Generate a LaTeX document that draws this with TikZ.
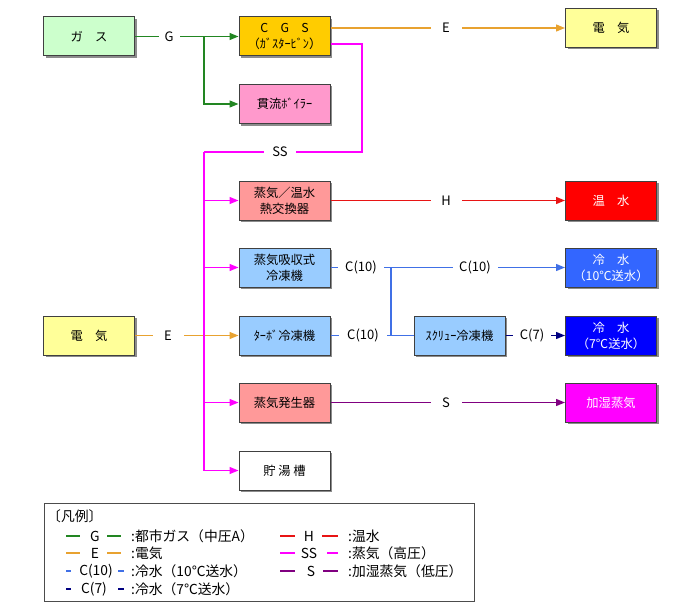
\documentclass[tikz,border=0pt]{standalone}
\usepackage{fontspec}
\setmainfont{Noto Sans CJK JP}
\usetikzlibrary{arrows.meta,shadows}
\definecolor{cG}{RGB}{34,134,34}
\definecolor{cE}{RGB}{232,162,48}
\definecolor{cSS}{RGB}{255,0,255}
\definecolor{cH}{RGB}{232,20,20}
\definecolor{cC}{RGB}{64,112,230}
\definecolor{cCs}{RGB}{0,0,128}
\definecolor{cS}{RGB}{128,0,128}
\definecolor{fGas}{RGB}{204,255,204}
\definecolor{fCGS}{RGB}{255,204,0}
\definecolor{fElec}{RGB}{255,255,153}
\definecolor{fBoil}{RGB}{255,153,204}
\definecolor{fHX}{RGB}{255,153,153}
\definecolor{fHW}{RGB}{255,0,0}
\definecolor{fChil}{RGB}{153,204,255}
\definecolor{fCWa}{RGB}{51,102,255}
\definecolor{fCWb}{RGB}{0,0,255}
\definecolor{fHum}{RGB}{255,0,255}
\begin{document}
\begin{tikzpicture}[x=1pt,y=-1pt,
  box/.style={draw=black!75, line width=1pt, minimum width=91pt, minimum height=39pt,
    inner sep=1pt, align=center, font=\fontsize{12.3}{16}\selectfont,
    drop shadow={shadow xshift=2pt, shadow yshift=-2pt, fill=black!45, opacity=1}},
  lbl/.style={fill=white, inner sep=1pt, font=\fontsize{13}{15}\selectfont},
  flow/.style={line width=1.3pt},
  arr/.style={-{Triangle[length=9pt,width=7pt]}},
  lg/.style={font=\fontsize{13.8}{15}\selectfont, inner sep=0pt},
  lgl/.style={line width=1.2pt}]
\useasboundingbox (0,0) rectangle (699,610);
% boxes
\node[box, fill=fGas] (gas) at (89,36.5) {ガ　ス};
\node[box, fill=fCGS] (cgs) at (284.5,36.5) {C　G　S\\（ｶﾞｽﾀｰﾋﾞﾝ）};
\node[box, fill=fElec] (elecR) at (611,28) {電　気};
\node[box, fill=fBoil] (boiler) at (284.5,104) {貫流ﾎﾞｲﾗｰ};
\node[box, fill=fHX] (hx) at (284.5,200.5) {蒸気／温水\\熱交換器};
\node[box, fill=fHW, text=white] (hw) at (611,200.5) {温　水};
\node[box, fill=fChil] (abs) at (284.5,267.5) {蒸気吸収式\\冷凍機};
\node[box, fill=fCWa, text=white] (cwa) at (611,267.5) {冷　水\\（10℃送水）};
\node[box, fill=fElec] (elecL) at (89,335.5) {電　気};
\node[box, fill=fChil] (turbo) at (284.5,335.5) {ﾀｰﾎﾞ冷凍機};
\node[box, fill=fChil] (screw) at (459.5,335.5) {ｽｸﾘｭｰ冷凍機};
\node[box, fill=fCWb, text=white] (cwb) at (611,335.5) {冷　水\\（7℃送水）};
\node[box, fill=fHX] (sg) at (284.5,402.5) {蒸気発生器};
\node[box, fill=fHum, text=white] (hum) at (611,402.5) {加湿蒸気};
\node[box, fill=white] (tank) at (284.5,470.5) {貯 湯 槽};
% gas
\coordinate (gbr) at (204,36.5);
\draw[flow,cG] (gas.east) -- (gbr);
\draw[flow,cG,arr] (gbr) -- (cgs.west);
\draw[flow,cG,arr] (gbr) |- (boiler.west);
\node[lbl, minimum width=21pt] (lG) at (169,36.5) {G};
% electricity from CGS
\draw[flow,cE,arr] (cgs.east |- elecR.west) -- (elecR.west);
\node[lbl, minimum width=31pt] (lE1) at (446,28) {E};
% electricity left
\draw[flow,cE,arr] (elecL.east) -- (turbo.west);
\node[lbl, minimum width=31pt] (lE2) at (168,335.5) {E};
% steam SS
\coordinate (ss1) at (362,44);
\coordinate (ss2) at (362,152);
\coordinate (ss3) at (204,152);
\draw[flow,cSS] ([yshift=-7.5pt]cgs.east) -- (ss1) -- (ss2) -- (ss3);
\draw[flow,cSS,arr] (ss3) |- (tank.west);
\draw[flow,cSS,arr] (ss3 |- hx.west) -- (hx.west);
\draw[flow,cSS,arr] (ss3 |- abs.west) -- (abs.west);
\draw[flow,cSS,arr] (ss3 |- sg.west) -- (sg.west);
\node[lbl, minimum width=32pt] (lSS) at (280,152) {SS};
% hot water
\draw[flow,cH,arr] (hx.east) -- (hw.west);
\node[lbl, minimum width=31pt] (lH) at (446,200.5) {H};
% chilled water 10
\coordinate (cbr) at (391,267.5);
\draw[flow,cC] (abs.east) -- (cbr);
\draw[flow,cC,arr] (cbr) -- (cwa.west);
\draw[flow,cC] (cbr) |- (screw.west);
\draw[flow,cC] (turbo.east) -- (screw.west);
\node[lbl, minimum width=46pt] (lC1) at (361,267.5) {C(10)};
\node[lbl, minimum width=45pt] (lC2) at (475,267.5) {C(10)};
\node[lbl, minimum width=48pt] (lC3) at (363,335.5) {C(10)};
% chilled water 7
\draw[flow,cCs,arr] (screw.east) -- (cwb.west);
\node[lbl, minimum width=38pt] (lC4) at (532,335.5) {C(7)};
% steam S
\draw[flow,cS,arr] (sg.east) -- (hum.west);
\node[lbl, minimum width=31pt] (lS) at (446,402.5) {S};
% legend
\node[draw=black!70, line width=0.9pt, minimum width=430pt, minimum height=98pt,
  inner sep=0pt, anchor=north west] (legend) at (44,503) {};
\node[lg, anchor=west] (lgt) at (47,516) {〔凡例〕};
% row 1
\draw[lgl,cG] (66,536) -- (80,536);
\node[lg] (lgG) at (95,536) {G};
\draw[lgl,cG] (107,536) -- (121,536);
\node[lg, anchor=west] (lgGt) at (131,536) {:都市ガス（中圧A）};
% row 2
\draw[lgl,cE] (66,553) -- (80,553);
\node[lg] (lgE) at (95,553) {E};
\draw[lgl,cE] (107,553) -- (121,553);
\node[lg, anchor=west] (lgEt) at (131,553) {:電気};
% row 3
\draw[lgl,cC] (66,571) -- (71,571);
\node[lg] (lgC) at (96,571) {C(10)};
\draw[lgl,cC] (118,571) -- (124,571);
\node[lg, anchor=west] (lgCt) at (131,571) {:冷水（10℃送水）};
% row 4
\draw[lgl,cCs] (66,589) -- (71,589);
\node[lg] (lgC7) at (94,589) {C(7)};
\draw[lgl,cCs] (118,589) -- (124,589);
\node[lg, anchor=west] (lgC7t) at (131,589) {:冷水（7℃送水）};
% right column
\draw[lgl,cH] (280,536) -- (295,536);
\node[lg] (lgH) at (309,536) {H};
\draw[lgl,cH] (322,536) -- (338,536);
\node[lg, anchor=west] (lgHt) at (348,536) {:温水};
\draw[lgl,cSS] (280,553) -- (295,553);
\node[lg] (lgSS) at (309,553) {SS};
\draw[lgl,cSS] (327,553) -- (338,553);
\node[lg, anchor=west] (lgSSt) at (348,553) {:蒸気（高圧）};
\draw[lgl,cS] (280,571) -- (295,571);
\node[lg] (lgS) at (311,571) {S};
\draw[lgl,cS] (323,571) -- (338,571);
\node[lg, anchor=west] (lgSt) at (348,571) {:加湿蒸気（低圧）};
\end{tikzpicture}
\end{document}
